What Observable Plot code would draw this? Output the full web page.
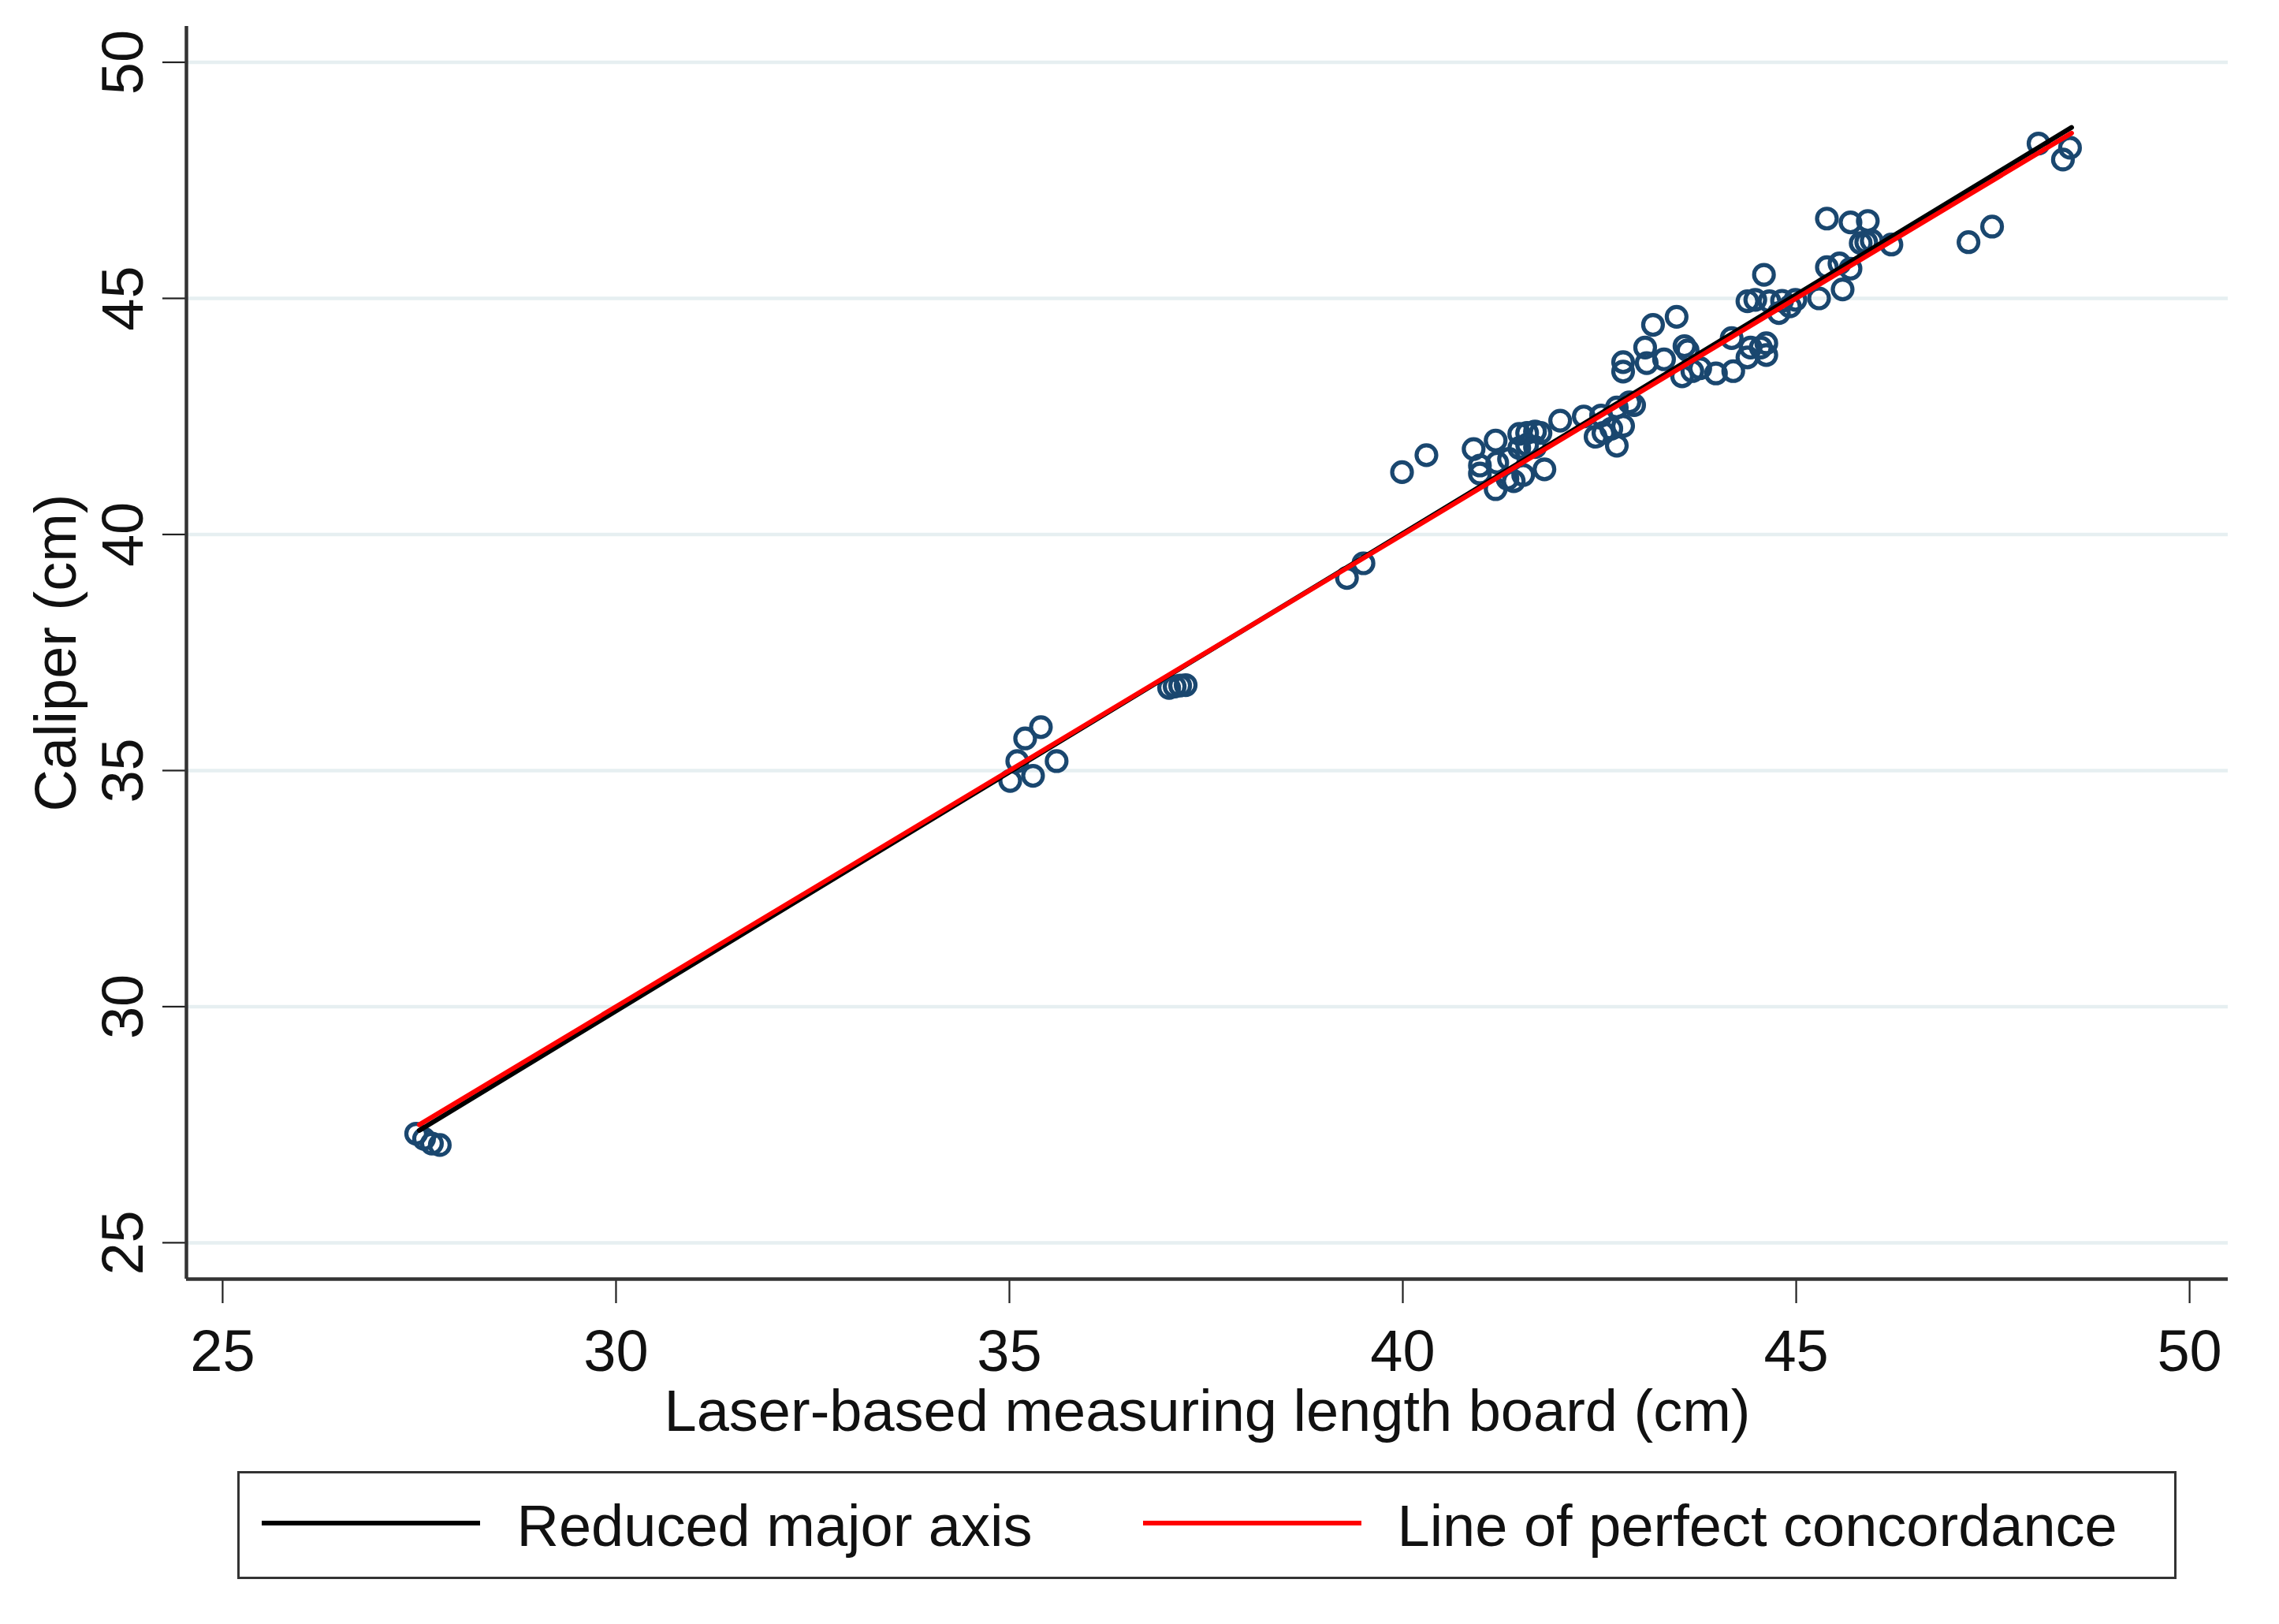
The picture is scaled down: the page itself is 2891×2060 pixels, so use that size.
<!DOCTYPE html>
<html>
<head>
<meta charset="utf-8">
<script src="https://cdn.jsdelivr.net/npm/d3@7"></script>
<script src="https://cdn.jsdelivr.net/npm/@observablehq/plot@0.6"></script>
<style>
  html, body { margin: 0; padding: 0; background: #ffffff; }
  body { position: relative; width: 2891px; height: 2060px; font-family: "Liberation Sans", Arial, sans-serif; }
  #chart { position: absolute; left: 0; top: 0; }
  #legend { position: absolute; left: 301px; top: 1866px; width: 2460px; height: 137px; border: 3.5px solid #333; box-sizing: border-box; background: #fff; }
  #legend .sw { position: absolute; height: 6px; }
  #legend .lab { position: absolute; font-size: 74px; line-height: 74px; color: #111; white-space: nowrap; }
</style>
</head>
<body>
<div id="chart"></div>
<div id="legend"></div>
<script>
// Laser-based measuring length board (cm)
const laser = [
  27.46, 27.56, 27.66, 27.76,
  35.01, 35.10, 35.20, 35.40, 35.30, 35.60,
  37.03, 37.10, 37.17, 37.24,
  39.29, 39.50,
  39.99, 40.30,
  40.90, 40.98, 40.98, 41.18, 41.20, 41.18, 41.33, 41.41, 41.53, 41.80,
  41.48, 41.58, 41.68, 41.75, 41.48, 41.68, 42.00, 41.35, 41.58,
  42.30, 42.45, 42.52, 42.65, 42.80, 42.72, 42.88, 42.94, 42.72, 42.55,
  43.18, 43.48, 43.08, 42.80, 42.80, 43.10, 43.32, 43.58, 43.62, 43.55,
  43.68, 43.78, 43.98, 44.20, 44.18, 44.38, 44.48, 44.55, 44.42, 44.62, 44.38,
  45.39, 45.69, 45.91, 45.89, 45.96, 45.82, 46.21, 45.39, 45.55, 45.69,
  45.59, 45.29, 44.59, 44.66, 44.82, 44.99, 44.78, 44.92, 44.62,
  48.08, 48.48, 48.39, 47.19, 47.49
];
// Caliper (cm)
const caliper = [
  27.31, 27.20, 27.10, 27.07,
  34.78, 35.20, 35.68, 35.92, 34.89, 35.20,
  36.75, 36.78, 36.80, 36.81,
  39.08, 39.39,
  41.32, 41.68,
  41.81, 41.46, 41.29, 41.99, 41.52, 40.96, 41.18, 41.13, 41.26, 41.38,
  42.13, 42.15, 42.18, 42.15, 41.83, 41.85, 42.41, 41.60, 41.90,
  42.50, 42.07, 42.52, 42.24, 42.30, 41.88, 42.80, 42.74, 42.69, 42.15,
  44.44, 44.61, 43.96, 43.65, 43.45, 43.63, 43.71, 43.99, 43.90, 43.35,
  43.46, 43.52, 43.41, 43.46, 44.16, 44.94, 44.97, 43.96, 43.96, 43.80, 43.75,
  46.69, 46.61, 46.64, 46.19, 46.22, 46.17, 46.14, 45.66, 45.74, 45.63,
  45.19, 45.00, 45.50, 44.94, 44.95, 44.97, 44.69, 44.83, 44.05,
  48.28, 48.19, 47.94, 46.19, 46.52
];
// Fitted lines (endpoints)
const lineX = [27.5, 48.5];
const rmaY = [27.38, 48.62];
const concordY = [27.5, 48.5];

const xTicks = [25, 30, 35, 40, 45, 50];
const yTicks = [25, 30, 35, 40, 45, 50];
const xDomain = [24.54, 50.49];
const yDomain = [24.23, 50.76];

const xLabel = "Laser-based measuring length board (cm)";
const yLabel = "Caliper (cm)";
const legendItems = [
  {label: "Reduced major axis", color: "#000000"},
  {label: "Line of perfect concordance", color: "#ff0000"}
];

const pts = laser.map((x, i) => ({x, y: caliper[i]}));
const rma = lineX.map((x, i) => ({x, y: rmaY[i]}));
const conc = lineX.map((x, i) => ({x, y: concordY[i]}));

const chart = Plot.plot({
  width: 2891,
  height: 1850,
  marginLeft: 236,
  marginRight: 65,
  marginTop: 33,
  marginBottom: 228,
  x: {domain: xDomain},
  y: {domain: yDomain},
  style: {fontFamily: "'Liberation Sans', Arial, sans-serif", fontSize: "74px", background: "#ffffff", color: "#111"},
  marks: [
    Plot.ruleY(yTicks, {stroke: "#e6eff1", strokeWidth: 4.5}),
    Plot.axisX(xTicks, {tickSize: 31, strokeWidth: 2.2, stroke: "#222", tickFormat: () => "", label: null}),
    Plot.axisY(yTicks, {tickSize: 30, strokeWidth: 2.2, stroke: "#222", tickFormat: () => "", label: null}),
    Plot.text(xTicks, {x: d => d, text: d => String(d), frameAnchor: "bottom", dy: 116, lineAnchor: "bottom", fontSize: 74, fill: "#111"}),
    Plot.text(yTicks, {y: d => d, text: d => String(d), frameAnchor: "left", dx: -56, rotate: -90, textAnchor: "middle", lineAnchor: "bottom", fontSize: 74, fill: "#111"}),
    Plot.text([xLabel], {text: d => d, frameAnchor: "bottom", dy: 192, lineAnchor: "bottom", fontSize: 74, fill: "#111"}),
    Plot.text([yLabel], {text: d => d, frameAnchor: "left", dx: -141, rotate: -90, textAnchor: "middle", lineAnchor: "bottom", fontSize: 74, fill: "#111"}),
    Plot.dot(pts, {x: "x", y: "y", r: 12.5, stroke: "#1a476f", strokeWidth: 5.2, fill: "none"}),
    Plot.line(rma, {x: "x", y: "y", stroke: "#000000", strokeWidth: 6}),
    Plot.line(conc, {x: "x", y: "y", stroke: "#ff0000", strokeWidth: 6}),
    Plot.ruleY([yDomain[0]], {stroke: "#333", strokeWidth: 4.5}),
    Plot.ruleX([xDomain[0]], {stroke: "#333", strokeWidth: 4.5})
  ]
});
document.getElementById("chart").appendChild(chart);

// Legend (HTML, below the SVG)
const legend = document.getElementById("legend");
const swLeft = [27.5, 1145.5];
const labLeft = [351.5, 1468.5];
legendItems.forEach((it, i) => {
  const sw = document.createElement("div");
  sw.className = "sw";
  sw.style.left = swLeft[i] + "px";
  sw.style.width = "277px";
  sw.style.top = "60px";
  sw.style.background = it.color;
  legend.appendChild(sw);
  const lab = document.createElement("div");
  lab.className = "lab";
  lab.style.left = labLeft[i] + "px";
  lab.style.top = "30px";
  lab.textContent = it.label;
  legend.appendChild(lab);
});
</script>
</body>
</html>
